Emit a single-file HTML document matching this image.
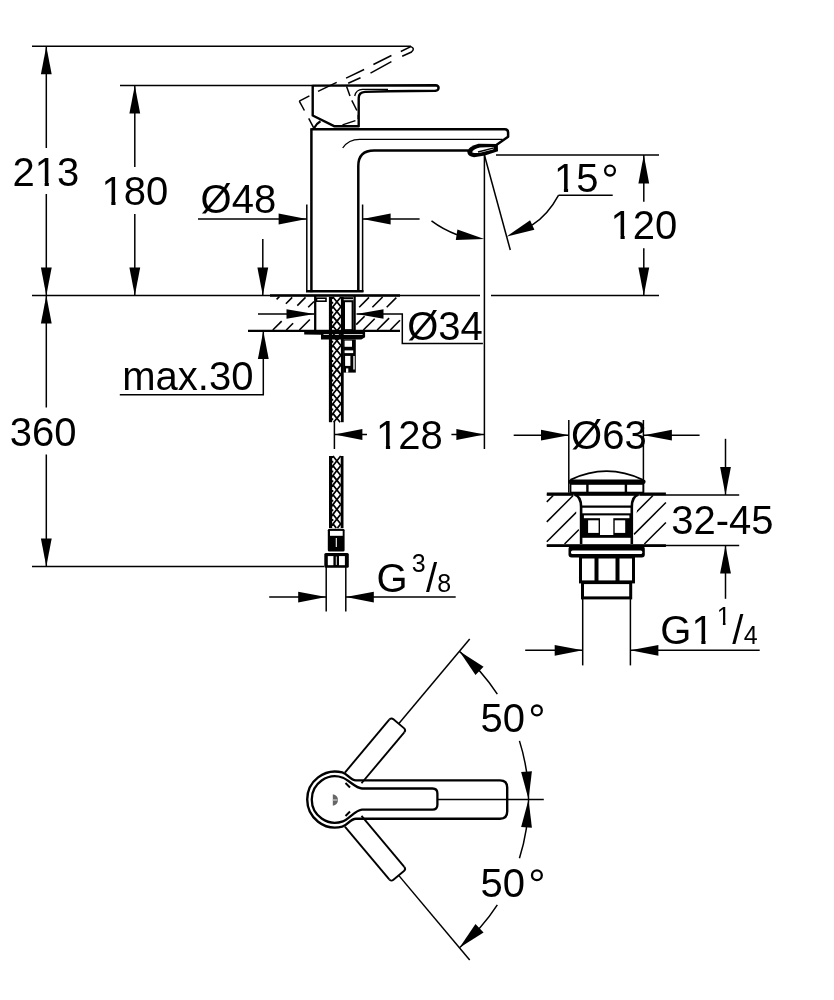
<!DOCTYPE html>
<html><head><meta charset="utf-8"><style>
html,body{margin:0;padding:0;background:#fff;width:834px;height:1000px;overflow:hidden}
svg{display:block;will-change:transform}
text{font-family:"Liberation Sans",sans-serif;fill:#000;stroke:none}
</style></head><body>
<svg width="834" height="1000" viewBox="0 0 834 1000">
<g fill="none" stroke="#000" stroke-linecap="butt">
<line x1="32.00" y1="46.20" x2="411.00" y2="46.20" stroke-width="1.5"/>
<line x1="46.30" y1="46.20" x2="46.30" y2="148.00" stroke-width="1.5"/>
<line x1="46.30" y1="194.00" x2="46.30" y2="295.50" stroke-width="1.5"/>
<path d="M46.30,46.20 L51.70,74.20 L40.90,74.20 Z" fill="#000" stroke="none"/>
<path d="M46.30,295.50 L40.90,267.50 L51.70,267.50 Z" fill="#000" stroke="none"/>
<text x="12.50" y="185.60" font-size="40" text-anchor="start">213</text>
<line x1="32.00" y1="295.50" x2="480.00" y2="295.50" stroke-width="1.5"/>
<line x1="491.00" y1="295.50" x2="659.00" y2="295.50" stroke-width="1.5"/>
<line x1="46.30" y1="295.50" x2="46.30" y2="407.50" stroke-width="1.5"/>
<line x1="46.30" y1="454.50" x2="46.30" y2="566.60" stroke-width="1.5"/>
<path d="M46.30,295.50 L51.70,323.50 L40.90,323.50 Z" fill="#000" stroke="none"/>
<path d="M46.30,566.60 L40.90,538.60 L51.70,538.60 Z" fill="#000" stroke="none"/>
<text x="9.70" y="446.00" font-size="40" text-anchor="start">360</text>
<line x1="32.00" y1="566.60" x2="324.00" y2="566.60" stroke-width="1.5"/>
<line x1="120.00" y1="85.40" x2="312.00" y2="85.40" stroke-width="1.5"/>
<line x1="134.80" y1="85.40" x2="134.80" y2="167.00" stroke-width="1.5"/>
<line x1="134.80" y1="214.00" x2="134.80" y2="295.50" stroke-width="1.5"/>
<path d="M134.80,85.40 L140.20,113.40 L129.40,113.40 Z" fill="#000" stroke="none"/>
<path d="M134.80,295.50 L129.40,267.50 L140.20,267.50 Z" fill="#000" stroke="none"/>
<text x="101.40" y="205.40" font-size="40" text-anchor="start">180</text>
<line x1="198.00" y1="219.00" x2="306.60" y2="219.00" stroke-width="1.5"/>
<path d="M306.60,219.00 L278.60,224.40 L278.60,213.60 Z" fill="#000" stroke="none"/>
<line x1="306.80" y1="204.50" x2="306.80" y2="292.00" stroke-width="1.5"/>
<line x1="362.60" y1="204.50" x2="362.60" y2="292.00" stroke-width="1.5"/>
<path d="M362.60,219.00 L390.60,213.60 L390.60,224.40 Z" fill="#000" stroke="none"/>
<line x1="362.60" y1="219.00" x2="419.60" y2="219.00" stroke-width="1.5"/>
<text x="200.60" y="212.60" font-size="40" text-anchor="start">Ø48</text>
<line x1="262.80" y1="239.00" x2="262.80" y2="295.50" stroke-width="1.5"/>
<path d="M262.80,295.50 L257.40,267.50 L268.20,267.50 Z" fill="#000" stroke="none"/>
<line x1="263.30" y1="331.00" x2="263.30" y2="394.70" stroke-width="1.5"/>
<path d="M263.30,331.00 L268.70,359.00 L257.90,359.00 Z" fill="#000" stroke="none"/>
<line x1="119.80" y1="394.70" x2="264.00" y2="394.70" stroke-width="1.5"/>
<text x="122.30" y="389.50" font-size="40" text-anchor="start">max.30</text>
<line x1="248.00" y1="331.00" x2="400.00" y2="331.00" stroke-width="1.5"/>
<line x1="258.00" y1="314.00" x2="314.50" y2="314.00" stroke-width="1.5"/>
<path d="M314.50,314.00 L286.50,318.80 L286.50,309.20 Z" fill="#000" stroke="none"/>
<path d="M356.50,314.00 L383.50,309.20 L383.50,318.80 Z" fill="#000" stroke="none"/>
<path d="M356.50,314.00 L402.30,314.00 L402.30,343.50 L482.90,343.50" stroke-width="1.5"/>
<text x="407.20" y="339.80" font-size="40" text-anchor="start">Ø34</text>
<line x1="496.00" y1="155.10" x2="659.00" y2="155.10" stroke-width="1.5"/>
<line x1="643.80" y1="155.10" x2="643.80" y2="201.70" stroke-width="1.5"/>
<line x1="643.80" y1="248.30" x2="643.80" y2="295.50" stroke-width="1.5"/>
<path d="M643.80,155.10 L649.20,183.60 L638.40,183.60 Z" fill="#000" stroke="none"/>
<path d="M643.80,295.50 L638.40,267.50 L649.20,267.50 Z" fill="#000" stroke="none"/>
<text x="610.60" y="239.20" font-size="40" text-anchor="start">120</text>
<line x1="484.40" y1="155.00" x2="510.30" y2="250.00" stroke-width="1.5"/>
<text x="554.00" y="192.10" font-size="40" text-anchor="start">15</text>
<circle cx="610" cy="170.6" r="4.9" stroke-width="2.3"/>
<line x1="558.60" y1="195.20" x2="612.70" y2="195.20" stroke-width="1.5"/>
<path d="M558.6,195.2 Q548,215 532,225.2" stroke-width="1.5" />
<path d="M506.30,236.70 L530.09,220.16 L534.39,229.63 Z" fill="#000" stroke="none"/>
<path d="M431.5,220.9 Q443,229.5 457,234.7" stroke-width="1.5" />
<path d="M484.30,238.90 L455.82,239.99 L457.40,229.51 Z" fill="#000" stroke="none"/>
<line x1="484.40" y1="155.00" x2="484.40" y2="449.00" stroke-width="1.5"/>
<line x1="334.40" y1="422.00" x2="334.40" y2="449.00" stroke-width="1.5"/>
<line x1="334.40" y1="434.50" x2="367.00" y2="434.50" stroke-width="1.5"/>
<path d="M334.40,434.50 L362.40,429.10 L362.40,439.90 Z" fill="#000" stroke="none"/>
<line x1="451.40" y1="434.50" x2="484.40" y2="434.50" stroke-width="1.5"/>
<path d="M484.40,434.50 L456.40,439.90 L456.40,429.10 Z" fill="#000" stroke="none"/>
<text x="376.00" y="449.00" font-size="40" text-anchor="start">128</text>
<line x1="326.20" y1="567.00" x2="326.20" y2="611.50" stroke-width="1.5"/>
<line x1="345.80" y1="567.00" x2="345.80" y2="611.50" stroke-width="1.5"/>
<line x1="269.20" y1="597.10" x2="326.20" y2="597.10" stroke-width="1.5"/>
<path d="M326.20,597.10 L298.20,602.50 L298.20,591.70 Z" fill="#000" stroke="none"/>
<line x1="345.80" y1="597.10" x2="455.70" y2="597.10" stroke-width="1.5"/>
<path d="M345.80,597.10 L373.80,591.70 L373.80,602.50 Z" fill="#000" stroke="none"/>
<text x="376.40" y="591.50" font-size="40" text-anchor="start">G</text>
<text x="411.70" y="572.40" font-size="25" text-anchor="start">3</text>
<text x="426.10" y="591.50" font-size="40" text-anchor="start">/</text>
<text x="437.20" y="591.50" font-size="25" text-anchor="start">8</text>
<line x1="513.70" y1="435.20" x2="569.00" y2="435.20" stroke-width="1.5"/>
<path d="M569.00,435.20 L541.00,440.60 L541.00,429.80 Z" fill="#000" stroke="none"/>
<line x1="643.90" y1="435.20" x2="699.60" y2="435.20" stroke-width="1.5"/>
<path d="M643.90,435.20 L671.90,429.80 L671.90,440.60 Z" fill="#000" stroke="none"/>
<line x1="568.80" y1="420.00" x2="568.80" y2="492.70" stroke-width="1.5"/>
<line x1="643.40" y1="420.00" x2="643.40" y2="492.70" stroke-width="1.5"/>
<text x="571.10" y="449.20" font-size="40" text-anchor="start">Ø63</text>
<line x1="546.80" y1="494.90" x2="739.20" y2="494.90" stroke-width="1.5"/>
<line x1="546.80" y1="545.60" x2="739.20" y2="545.60" stroke-width="1.5"/>
<line x1="725.50" y1="438.80" x2="725.50" y2="494.90" stroke-width="1.5"/>
<path d="M725.50,494.90 L720.10,466.90 L730.90,466.90 Z" fill="#000" stroke="none"/>
<line x1="725.50" y1="545.60" x2="725.50" y2="598.80" stroke-width="1.5"/>
<path d="M725.50,545.60 L730.90,573.60 L720.10,573.60 Z" fill="#000" stroke="none"/>
<text x="671.20" y="534.00" font-size="40" text-anchor="start">32-45</text>
<line x1="582.70" y1="599.00" x2="582.70" y2="665.40" stroke-width="1.5"/>
<line x1="630.40" y1="599.00" x2="630.40" y2="665.40" stroke-width="1.5"/>
<line x1="525.20" y1="650.30" x2="582.70" y2="650.30" stroke-width="1.5"/>
<path d="M582.70,650.30 L554.70,655.70 L554.70,644.90 Z" fill="#000" stroke="none"/>
<line x1="630.40" y1="650.30" x2="759.70" y2="650.30" stroke-width="1.5"/>
<path d="M630.40,650.30 L658.40,644.90 L658.40,655.70 Z" fill="#000" stroke="none"/>
<text x="660.30" y="644.00" font-size="40" text-anchor="start">G1</text>
<text x="716.70" y="625.00" font-size="25" text-anchor="start">1</text>
<text x="732.20" y="644.20" font-size="40" text-anchor="start">/</text>
<text x="743.80" y="643.50" font-size="25" text-anchor="start">4</text>
<path d="M356,780.4 C350,780.4 348,774 342.25,772.45 A28,28 0 1 0 342.25,826.65 C348,825.1 350,818.7 356,818.7 L500,818.7 Q507.2,818.7 507.2,811.5 L507.2,787.6 Q507.2,780.4 500,780.4 Z" stroke-width="2.4" />
<path d="M362,788.5 C356,788.5 348.5,779.8 342.9,777.75 A23.2,23.2 0 1 0 342.9,821.35 C348.5,819.3 356,809.6 362,809.6 L432.5,809.6 Q437.4,809.6 437.4,804.7 L437.4,793.4 Q437.4,788.5 432.5,788.5 Z" stroke-width="2.3" />
<line x1="345.50" y1="783.00" x2="350.00" y2="787.50" stroke-width="2"/>
<line x1="345.50" y1="816.00" x2="350.00" y2="811.50" stroke-width="2"/>
<path d="M332.8,794.3 Q338,795.5 338,800 Q338,804.5 332.8,805.8 Z" fill="#666" stroke="none"/>
<line x1="333" y1="800" x2="337.5" y2="800" stroke="#fff" stroke-width="0.8"/>
<line x1="437.40" y1="799.55" x2="543.80" y2="799.55" stroke-width="1.5"/>
<line x1="398.69" y1="875.39" x2="469.71" y2="960.04" stroke-width="1.5"/>
<line x1="344.90" y1="826.53" x2="389.25" y2="879.39" stroke-width="1.9"/>
<line x1="361.52" y1="815.85" x2="404.26" y2="866.79" stroke-width="1.9"/>
<path d="M389.25,879.39 Q391.18,881.69 393.43,879.80 L403.94,870.98 Q406.19,869.09 404.26,866.79" stroke-width="1.9" />
<line x1="398.69" y1="723.71" x2="469.71" y2="639.06" stroke-width="1.5"/>
<line x1="361.52" y1="783.25" x2="404.26" y2="732.31" stroke-width="1.9"/>
<line x1="344.90" y1="772.57" x2="389.25" y2="719.71" stroke-width="1.9"/>
<path d="M404.26,732.31 Q406.19,730.01 403.94,728.12 L393.43,719.30 Q391.18,717.41 389.25,719.71" stroke-width="1.9" />
<path d="M459.43,651.32 A193.5,193.5 0 0 1 497.33,694.16" stroke-width="1.5" />
<path d="M519.44,740.88 A193.5,193.5 0 0 1 528.55,799.55" stroke-width="1.5" />
<path d="M459.43,947.78 A193.5,193.5 0 0 0 497.33,904.94" stroke-width="1.5" />
<path d="M519.44,858.22 A193.5,193.5 0 0 0 528.55,799.55" stroke-width="1.5" />
<path d="M459.43,651.32 L483.56,666.66 L475.48,674.99 Z" fill="#000" stroke="none"/>
<path d="M528.55,799.55 L521.14,772.01 L531.91,771.23 Z" fill="#000" stroke="none"/>
<path d="M459.43,947.78 L475.48,924.11 L483.56,932.44 Z" fill="#000" stroke="none"/>
<path d="M528.55,799.55 L531.91,827.87 L521.14,827.09 Z" fill="#000" stroke="none"/>
<text x="480.60" y="732.20" font-size="40" text-anchor="start">50</text>
<circle cx="536.9" cy="710.4" r="4.9" stroke-width="2.3"/>
<text x="480.50" y="896.50" font-size="40" text-anchor="start">50</text>
<circle cx="536.9" cy="875.2" r="4.9" stroke-width="2.3"/>
<path d="M312.7,115.5 L312.7,85.6 L435.5,85.2 Q438.6,85.4 438.6,88 Q438.4,90.6 435.5,90.8 L388,91.2 L365,91.9 Q358.7,92.3 358.7,98 L358.7,126.3 L334.6,126.3 Z" stroke-width="2.4" stroke-linejoin="round"/>
<path d="M354.7,96 Q356,89.6 362.5,89.4 L388,89.4" stroke-width="1.3" />
<path d="M314.2,128 Q316.5,123.5 320.5,121.3" stroke-width="2.2" />
<line x1="299.30" y1="101.20" x2="309.40" y2="95.80" stroke-width="1.5"/>
<line x1="318.00" y1="91.40" x2="336.70" y2="82.40" stroke-width="1.5"/>
<line x1="346.10" y1="78.10" x2="364.10" y2="69.50" stroke-width="1.5"/>
<line x1="373.40" y1="64.50" x2="391.40" y2="55.50" stroke-width="1.5"/>
<line x1="400.80" y1="51.50" x2="410.80" y2="46.60" stroke-width="1.5"/>
<line x1="370.50" y1="73.10" x2="391.40" y2="61.60" stroke-width="1.5"/>
<line x1="348.20" y1="83.20" x2="360.50" y2="77.70" stroke-width="1.5"/>
<line x1="346.60" y1="86.50" x2="350.00" y2="96.10" stroke-width="1.5"/>
<line x1="351.80" y1="100.40" x2="356.90" y2="110.50" stroke-width="1.5"/>
<line x1="358.30" y1="114.80" x2="358.30" y2="119.10" stroke-width="1.5"/>
<line x1="355.40" y1="120.60" x2="342.50" y2="124.90" stroke-width="1.5"/>
<line x1="299.30" y1="101.20" x2="304.40" y2="110.50" stroke-width="1.5"/>
<line x1="308.70" y1="118.40" x2="313.70" y2="127.80" stroke-width="1.5"/>
<path d="M410.8,46.6 Q415.5,48.5 411.5,52 L402.2,56.2" stroke-width="1.5" />
<path d="M311.4,129.3 L504.8,129.3 Q508.1,129.3 508.1,132.6 L508.1,136.8 L496.7,144.8" stroke-width="2.5" stroke-linejoin="round"/>
<line x1="311.40" y1="128.20" x2="311.40" y2="292.20" stroke-width="2.5"/>
<path d="M342.7,148 Q348.5,139.4 359.7,139.4 L502.7,139.4" stroke-width="1.3" />
<path d="M358.3,292 L358.3,166 Q358.3,150.5 374.1,150.5 L468.6,150.5" stroke-width="2.5" />
<path d="M467.2,151.5 Q468.5,146.5 478.5,143.8 L497.8,144 L498,151.2 L485,155.5 L474,157.2 Q467.5,156.5 467.2,151.5 Z" fill="#000" stroke="none"/>
<path d="M472,152.2 Q474,148.8 480,147.6 L494,147 Q494.5,148.8 493,149.5 L481,152.6 Q475,153.8 472,152.2 Z" fill="#fff" stroke="none"/>
<line x1="478.00" y1="152.00" x2="494.00" y2="147.80" stroke-width="1.3"/>
<line x1="306.00" y1="291.20" x2="363.50" y2="291.20" stroke-width="2.5"/>
<line x1="270.00" y1="295.50" x2="400.00" y2="295.50" stroke-width="2.3"/>
<line x1="248.00" y1="330.80" x2="400.00" y2="330.80" stroke-width="2.3"/>
<line x1="276.60" y1="299.40" x2="279.40" y2="296.60" stroke-width="1.6"/>
<line x1="285.90" y1="303.70" x2="292.20" y2="297.40" stroke-width="1.6"/>
<line x1="297.30" y1="305.60" x2="305.50" y2="297.40" stroke-width="1.6"/>
<line x1="308.20" y1="307.30" x2="314.00" y2="301.50" stroke-width="1.6"/>
<line x1="272.80" y1="330.00" x2="281.70" y2="321.10" stroke-width="1.6"/>
<line x1="286.30" y1="330.00" x2="293.10" y2="323.20" stroke-width="1.6"/>
<line x1="299.40" y1="330.00" x2="309.90" y2="319.50" stroke-width="1.6"/>
<line x1="359.20" y1="307.20" x2="369.00" y2="297.40" stroke-width="1.6"/>
<line x1="372.40" y1="307.20" x2="382.60" y2="297.00" stroke-width="1.6"/>
<line x1="386.70" y1="307.20" x2="396.30" y2="297.60" stroke-width="1.6"/>
<line x1="356.20" y1="324.60" x2="364.60" y2="316.20" stroke-width="1.6"/>
<line x1="363.40" y1="330.00" x2="374.70" y2="318.70" stroke-width="1.6"/>
<line x1="377.20" y1="330.00" x2="389.10" y2="318.10" stroke-width="1.6"/>
<line x1="390.30" y1="330.00" x2="400.00" y2="320.30" stroke-width="1.6"/>
<line x1="315.20" y1="296.00" x2="315.20" y2="331.00" stroke-width="2.3"/>
<line x1="354.60" y1="296.00" x2="354.60" y2="331.00" stroke-width="2.3"/>
<rect x="316.5" y="298.2" width="9.5" height="3" stroke-width="1.6"/>
<rect x="344" y="301.2" width="8.6" height="29" stroke-width="2"/>
<line x1="340.60" y1="298.20" x2="353.00" y2="298.20" stroke-width="2"/>
<path d="M304.2,330.6 L365.1,330.6 L365.1,337.3 L361.3,339.4 L321,339.4 L321,334.8 L304.2,334.4 Z" fill="#000" stroke="none"/>
<line x1="323.5" y1="334.5" x2="362.6" y2="334.5" stroke="#fff" stroke-width="0.8"/>
<line x1="330.50" y1="297.00" x2="330.50" y2="422.20" stroke-width="3.2"/>
<line x1="342.30" y1="297.00" x2="342.30" y2="422.20" stroke-width="2.8"/>
<path d="M332.90,297.00 L340.90,306.70 L332.90,316.40 L340.90,326.10 L332.90,335.80 L340.90,345.50 L332.90,355.20 L340.90,364.90 L332.90,374.60 L340.90,384.30 L332.90,394.00 L340.90,403.70 L332.90,413.40 L340.16,422.20" stroke-width="1.7"/>
<path d="M340.90,297.00 L332.90,306.70 L340.90,316.40 L332.90,326.10 L340.90,335.80 L332.90,345.50 L340.90,355.20 L332.90,364.90 L340.90,374.60 L332.90,384.30 L340.90,394.00 L332.90,403.70 L340.90,413.40 L333.64,422.20" stroke-width="1.7"/>
<line x1="332.50" y1="297" x2="332.50" y2="422.2" stroke-width="1.4" stroke-dasharray="2,2.85"/>
<rect x="343.2" y="339.4" width="12.6" height="33.2" fill="#000" stroke="none"/>
<rect x="344.6" y="340.6" width="7.4" height="6.2" fill="#fff" stroke="none"/>
<rect x="344.6" y="350.4" width="8.6" height="2.7" fill="#fff" stroke="none"/>
<rect x="345.1" y="355.9" width="5.3" height="10" fill="#fff" stroke="none"/>
<rect x="353.3" y="356" width="1.4" height="13.5" fill="#fff" stroke="none"/>
<rect x="346" y="368.4" width="2.3" height="4.2" fill="#fff" stroke="none"/>
<line x1="330.60" y1="456.00" x2="330.60" y2="528.00" stroke-width="3.2"/>
<line x1="342.10" y1="456.00" x2="342.10" y2="528.00" stroke-width="2.8"/>
<path d="M333.00,456.00 L340.70,465.70 L333.00,475.40 L340.70,485.10 L333.00,494.80 L340.70,504.50 L333.00,514.20 L340.70,523.90 L337.45,528.00" stroke-width="1.7"/>
<path d="M340.70,456.00 L333.00,465.70 L340.70,475.40 L333.00,485.10 L340.70,494.80 L333.00,504.50 L340.70,514.20 L333.00,523.90 L336.25,528.00" stroke-width="1.7"/>
<line x1="332.60" y1="456" x2="332.60" y2="528" stroke-width="1.4" stroke-dasharray="2,2.85"/>
<rect x="327.8" y="528.8" width="16.8" height="22.8" rx="1.5" fill="#000" stroke="none"/>
<rect x="330" y="530.9" width="12.7" height="4.9" fill="#fff" stroke="none"/>
<line x1="336.3" y1="538" x2="336.3" y2="547" stroke="#fff" stroke-width="1.1"/>
<rect x="324.3" y="553" width="24.5" height="14.7" rx="1.5" fill="#000" stroke="none"/>
<rect x="327.8" y="556.1" width="5.6" height="9.1" fill="#fff" stroke="none"/>
<rect x="339" y="556.1" width="5.9" height="9.1" fill="#fff" stroke="none"/>
<line x1="336.3" y1="556.5" x2="336.3" y2="565" stroke="#fff" stroke-width="0.9"/>
<path d="M570.4,479.8 Q606.5,462.5 642.9,479.8" stroke-width="1.9" />
<line x1="570.6" y1="481.8" x2="643.4" y2="481.8" stroke-width="4.4" stroke-linecap="round"/>
<rect x="570.6" y="484" width="72.8" height="8.5" stroke-width="1.6"/>
<line x1="587.40" y1="484.00" x2="587.40" y2="492.50" stroke-width="2.4"/>
<line x1="625.90" y1="484.00" x2="625.90" y2="492.50" stroke-width="2.4"/>
<line x1="546.80" y1="493.80" x2="665.90" y2="493.80" stroke-width="2.8"/>
<line x1="546.80" y1="545.60" x2="665.90" y2="545.60" stroke-width="2.8"/>
<line x1="546.80" y1="501.90" x2="553.20" y2="495.50" stroke-width="1.5"/>
<line x1="546.80" y1="521.85" x2="573.15" y2="495.50" stroke-width="1.5"/>
<line x1="546.80" y1="541.80" x2="579.00" y2="509.60" stroke-width="1.5"/>
<line x1="564.55" y1="544.00" x2="579.00" y2="529.55" stroke-width="1.5"/>
<line x1="634.00" y1="514.45" x2="652.95" y2="495.50" stroke-width="1.5"/>
<line x1="634.00" y1="534.40" x2="665.90" y2="502.50" stroke-width="1.5"/>
<line x1="644.35" y1="544.00" x2="665.90" y2="522.45" stroke-width="1.5"/>
<path d="M573.5,494.5 Q581.1,496.5 581.1,507 L581.1,544 M639.5,494.5 Q631.8,496.5 631.8,507 L631.8,544" fill="#fff" stroke="none"/>
<path d="M574.4,494.5 Q581.1,496.5 581.1,507 L581.1,544" stroke-width="2.6" />
<path d="M638.6,494.5 Q631.8,496.5 631.8,507 L631.8,544" stroke-width="2.6" />
<line x1="581.10" y1="506.60" x2="631.80" y2="506.60" stroke-width="2.3"/>
<rect x="581.1" y="513.3" width="50.7" height="24.5" fill="#000" stroke="none"/>
<rect x="583.9" y="515.4" width="45.5" height="2.8" fill="#fff" stroke="none"/>
<rect x="588.1" y="520.3" width="10.5" height="12.6" fill="#fff" stroke="none"/>
<rect x="614.7" y="520.3" width="10.5" height="12.6" fill="#fff" stroke="none"/>
<rect x="600" y="518" width="13.3" height="17" fill="#fff" stroke="none"/>
<rect x="568.5" y="546" width="76.3" height="11.4" rx="3" fill="#000" stroke="none"/>
<rect x="571" y="550.4" width="71.3" height="3.5" rx="1.5" fill="#fff" stroke="none"/>
<rect x="580.5" y="557" width="53" height="24.9" stroke-width="3"/>
<line x1="596.50" y1="557.00" x2="596.50" y2="581.90" stroke-width="4"/>
<line x1="617.50" y1="557.00" x2="617.50" y2="581.90" stroke-width="4"/>
<rect x="582.5" y="582.6" width="48.2" height="15.3" stroke-width="3"/>
<rect x="36.24" y="182.10" width="8.40" height="4.30" fill="#fff" stroke="none"/>
<rect x="48.84" y="182.10" width="8.40" height="4.30" fill="#fff" stroke="none"/>
<rect x="102.90" y="201.90" width="8.40" height="4.30" fill="#fff" stroke="none"/>
<rect x="115.50" y="201.90" width="8.40" height="4.30" fill="#fff" stroke="none"/>
<rect x="555.50" y="188.60" width="8.40" height="4.30" fill="#fff" stroke="none"/>
<rect x="568.10" y="188.60" width="8.40" height="4.30" fill="#fff" stroke="none"/>
<rect x="612.10" y="235.70" width="8.40" height="4.30" fill="#fff" stroke="none"/>
<rect x="624.70" y="235.70" width="8.40" height="4.30" fill="#fff" stroke="none"/>
<rect x="377.50" y="445.50" width="8.40" height="4.30" fill="#fff" stroke="none"/>
<rect x="390.10" y="445.50" width="8.40" height="4.30" fill="#fff" stroke="none"/>
<rect x="692.92" y="640.50" width="8.40" height="4.30" fill="#fff" stroke="none"/>
<rect x="705.52" y="640.50" width="8.40" height="4.30" fill="#fff" stroke="none"/>
<rect x="717.64" y="622.81" width="5.25" height="2.69" fill="#fff" stroke="none"/>
<rect x="725.51" y="622.81" width="5.25" height="2.69" fill="#fff" stroke="none"/>
</g>
</svg></body></html>
